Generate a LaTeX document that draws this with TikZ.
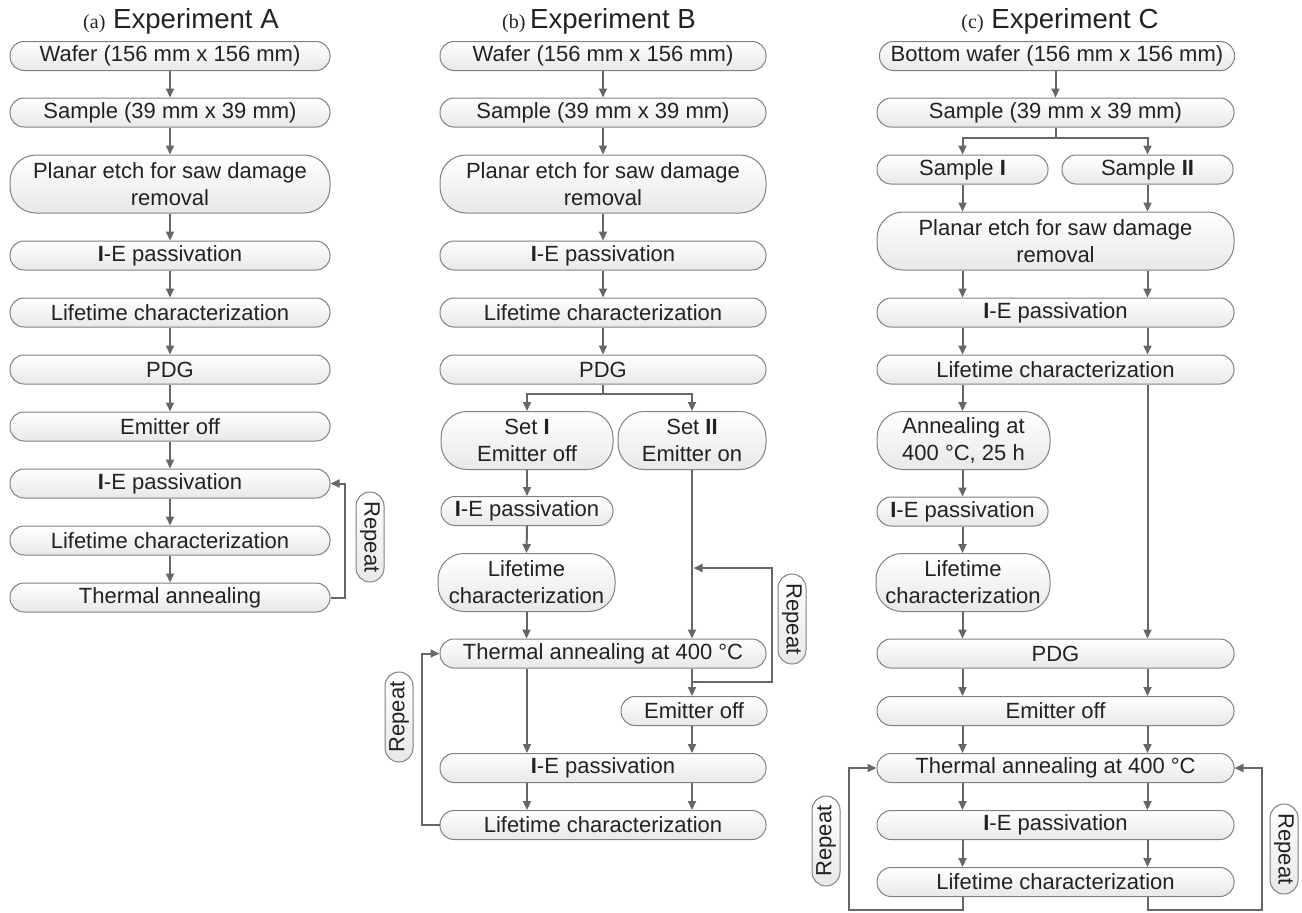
\documentclass[tikz,border=0pt]{standalone}
\usepackage{fontspec}
\setmainfont{Liberation Sans}
\newfontfamily\seriffont{Liberation Serif}
\usetikzlibrary{arrows.meta}
\definecolor{linegray}{HTML}{666666}
\definecolor{bordergray}{HTML}{808080}
\definecolor{txtcol}{HTML}{222222}
\tikzset{
  x=0.5pt, y=-0.5pt,
  box/.style={draw=bordergray, line width=0.5pt, rounded corners=7pt,
    top color=white, bottom color=black!9, text=txtcol,
    font=\fontsize{11}{13.5}\selectfont, inner sep=0pt,
    minimum height=14.5pt, align=center},
  tall/.style={box, minimum height=29pt, rounded corners=13pt},
  arr/.style={draw=linegray, line width=1pt, -{Triangle[length=4.5pt,width=4pt]}},
  ln/.style={draw=linegray, line width=1pt},
  rep/.style={box, minimum width=45pt, minimum height=14pt},
  ttl/.style={text=txtcol, font=\fontsize{13.8}{16}\selectfont, inner sep=0pt, anchor=base}
}
\newcommand{\lab}[1]{{\seriffont\fontsize{10}{12}\selectfont #1}}
\begin{document}
\begin{tikzpicture}
\useasboundingbox (0,0) rectangle (1302,912);

% titles
\node[ttl] (tA) at (181,28) {\lab{(a)} Experiment A};
\node[ttl] (tB) at (599,28) {\lab{(b)}\,Experiment B};
\node[ttl] (tC) at (1060,28) {\lab{(c)} Experiment C};

% ---------- Column A ----------
\begin{scope}[every node/.append style={minimum width=160pt}]
\node[box] (a1) at (170,56) {Wafer (156 mm x 156 mm)};
\node[box] (a2) at (170,112.5) {Sample (39 mm x 39 mm)};
\node[tall] (a3) at (170,184) {Planar etch for saw damage\\removal};
\node[box] (a4) at (170,255.5) {\textbf{I}-E passivation};
\node[box] (a5) at (170,312.5) {Lifetime characterization};
\node[box] (a6) at (170,369.5) {PDG};
\node[box] (a7) at (170,426.5) {Emitter off};
\node[box] (a8) at (170,483.5) {\textbf{I}-E passivation};
\node[box] (a9) at (170,540.5) {Lifetime characterization};
\node[box] (a10) at (170,597.5) {Thermal annealing};
\end{scope}
\foreach \i/\j in {a1/a2,a2/a3,a3/a4,a4/a5,a5/a6,a6/a7,a7/a8,a8/a9,a9/a10}
  \draw[arr] (\i.south) -- (\j.north);
\coordinate (la) at (345,597.5);
\draw[arr] (a10.east) -- (la) |- (a8.east);
\node[rep, rotate=-90] (ra) at (370,537) {Repeat};

% ---------- Column B ----------
\begin{scope}[every node/.append style={minimum width=163pt}]
\node[box] (b1) at (603,56) {Wafer (156 mm x 156 mm)};
\node[box] (b2) at (603,112.5) {Sample (39 mm x 39 mm)};
\node[tall] (b3) at (603,184) {Planar etch for saw damage\\removal};
\node[box] (b4) at (603,255.5) {\textbf{I}-E passivation};
\node[box] (b5) at (603,312.5) {Lifetime characterization};
\node[box] (b6) at (603,369.5) {PDG};
\node[box] (b11) at (603,653.5) {Thermal annealing at 400 °C};
\node[box] (b13) at (603,768) {\textbf{I}-E passivation};
\node[box] (b14) at (603,825) {Lifetime characterization};
\end{scope}
\node[tall, minimum width=86pt] (b7) at (527,440.5) {Set \textbf{I}\\Emitter off};
\node[tall, minimum width=74pt] (b8) at (692,440.5) {Set \textbf{II}\\Emitter on};
\node[box, minimum width=86pt] (b9) at (527,511) {\textbf{I}-E passivation};
\node[tall, minimum width=88.5pt] (b10) at (526.5,582.5) {Lifetime\\characterization};
\node[box, minimum width=73pt] (b12) at (694,711) {Emitter off};

\foreach \i/\j in {b1/b2,b2/b3,b3/b4,b4/b5,b5/b6}
  \draw[arr] (\i.south) -- (\j.north);
\coordinate (bj) at (603,394);
\draw[ln] (b6.south) -- (bj);
\draw[arr] (bj) -| (b7.north);
\draw[arr] (bj) -| (b8.north);
\draw[arr] (b7.south) -- (b9.north);
\draw[arr] (b9.south) -- (b10.north);
\draw[arr] (b10.south) -- (b11.north -| b10);
\draw[arr] (b8.south) -- (b11.north -| b8);
\draw[arr] (b11.south -| b9) -- (b13.north -| b9);
\draw[arr] (b11.south -| b8) -- (b12.north -| b8);
\draw[arr] (b12.south -| b8) -- (b13.north -| b8);
\draw[arr] (b13.south -| b9) -- (b14.north -| b9);
\draw[arr] (b13.south -| b8) -- (b14.north -| b8);
\coordinate (bjj) at (692,681.5);
\coordinate (bjR) at (772,681.5);
\coordinate (bjT) at (693.5,568);
\draw[arr] (bjj) -- (bjR) |- (bjT);
\node[rep, rotate=-90] (rb1) at (792,619) {Repeat};
\coordinate (bL) at (422,825);
\draw[arr] (b14.west) -- (bL) |- (b11.west);
\node[rep, rotate=90] (rb2) at (399,717) {Repeat};

% ---------- Column C ----------
\node[box, minimum width=177.5pt] (c1) at (1057,56) {Bottom wafer (156 mm x 156 mm)};
\begin{scope}[every node/.append style={minimum width=178.5pt}]
\node[box] (c2) at (1055.5,112.5) {Sample (39 mm x 39 mm)};
\node[tall] (c5) at (1055.5,241) {Planar etch for saw damage\\removal};
\node[box] (c6) at (1055.5,312.5) {\textbf{I}-E passivation};
\node[box] (c7) at (1055.5,369.5) {Lifetime characterization};
\node[box] (c11) at (1055.5,653.5) {PDG};
\node[box] (c12) at (1055.5,711) {Emitter off};
\node[box] (c13) at (1055.5,768) {Thermal annealing at 400 °C};
\node[box] (c14) at (1055.5,825) {\textbf{I}-E passivation};
\node[box] (c15) at (1055.5,882) {Lifetime characterization};
\end{scope}
\node[box, minimum width=85.5pt] (c3) at (962.5,169.5) {Sample \textbf{I}};
\node[box, minimum width=85.5pt] (c4) at (1147.5,169.5) {Sample \textbf{II}};
\node[tall, minimum width=86.5pt] (c8) at (963.5,440.5) {Annealing at\\400 °C, 25 h};
\node[box, minimum width=85.5pt] (c9) at (962.5,511.5) {\textbf{I}-E passivation};
\node[tall, minimum width=87pt] (c10) at (963,582.5) {Lifetime\\characterization};

\draw[arr] (c1.south -| c2) -- (c2.north);
\coordinate (cj) at (1055.5,137.5);
\draw[ln] (c2.south) -- (cj);
\draw[arr] (cj) -| (c3.north);
\draw[arr] (cj) -| (c4.north);
\draw[arr] (c3.south) -- (c5.north -| c3);
\draw[arr] (c4.south) -- (c5.north -| c4);
\foreach \i/\j in {c5/c6,c6/c7,c11/c12,c12/c13,c13/c14,c14/c15}{
  \draw[arr] (\i.south -| c3) -- (\j.north -| c3);
  \draw[arr] (\i.south -| c4) -- (\j.north -| c4);
}
\draw[arr] (c7.south -| c3) -- (c8.north -| c3);
\draw[arr] (c7.south -| c4) -- (c11.north -| c4);
\draw[arr] (c8.south -| c3) -- (c9.north -| c3);
\draw[arr] (c9.south -| c3) -- (c10.north -| c3);
\draw[arr] (c10.south -| c3) -- (c11.north -| c3);
\coordinate (cLb) at (849,910);
\coordinate (cRb) at (1262,910);
\draw[arr] (c15.south -| c3) |- (cLb) |- (c13.west);
\draw[arr] (c15.south -| c4) |- (cRb) |- (c13.east);
\node[rep, rotate=90] (rc1) at (826,841) {Repeat};
\node[rep, rotate=-90] (rc2) at (1284,849) {Repeat};
\end{tikzpicture}
\end{document}
